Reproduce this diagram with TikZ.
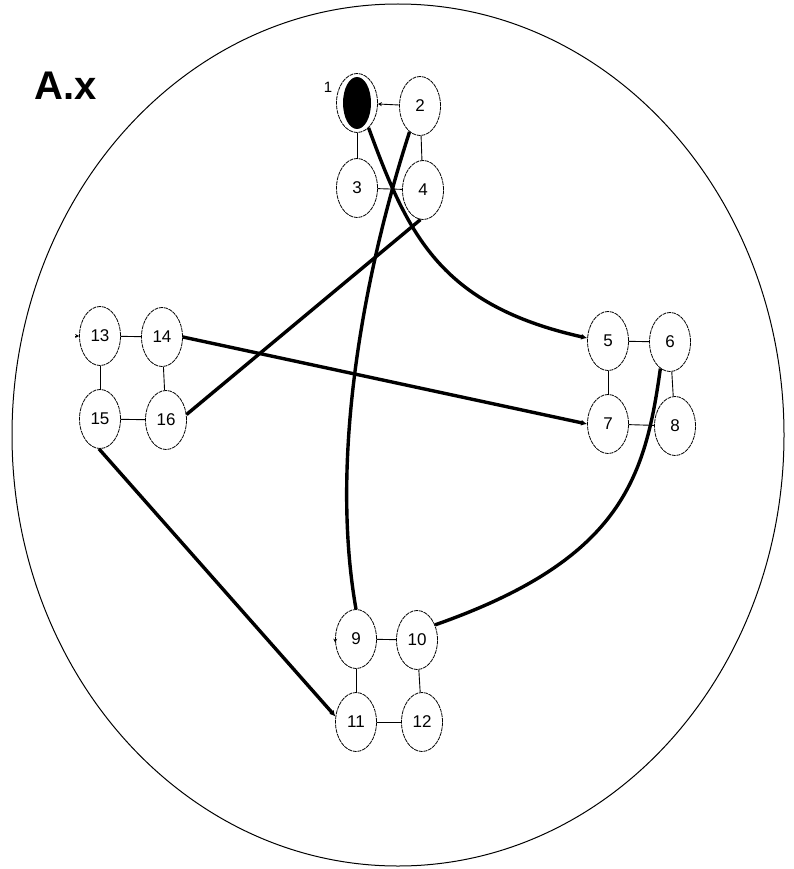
\documentclass[tikz,border=0pt]{standalone}
\usepackage{fontspec}
\setmainfont{Liberation Sans}
\usetikzlibrary{shapes.geometric, arrows.meta, calc}

\begin{document}
\begin{tikzpicture}[x=1pt, y=-1pt,
      state/.style={ellipse, draw, line width=0.8pt, dash pattern=on 4pt off 0.8pt,
         minimum width=41pt, minimum height=59pt, inner sep=0pt,
         font=\fontsize{17}{19}\selectfont},
      link/.style={line width=0.9pt},
      bond/.style={line width=3.4pt},
      tip/.style={-{Stealth[length=4pt, width=4pt]}}
   ]
   \useasboundingbox (0,0) rectangle (794,869);
   % Outer boundary
   \draw[line width=1pt] (398,435) ellipse (386 and 431);
   % Title
   \node[font=\bfseries\fontsize{40}{44}\selectfont] (title) at (66,86) {A.x};
   % Group 1-4 (node 1 filled)
   \node[state, path picture={\fill (path picture bounding box.center) ellipse (14pt and 26pt);},
      label={[font=\fontsize{15}{17}\selectfont, label distance=1pt]162:1}] (n1) at (357,103) {};
   \node[state] (n2) at (420,106) {2};
   \node[state] (n3) at (357,188) {3};
   \node[state] (n4) at (423,190) {4};
   % Group 5-8
   \node[state] (n5) at (608,341) {5};
   \node[state] (n6) at (670,342) {6};
   \node[state] (n7) at (608,424) {7};
   \node[state] (n8) at (675,426) {8};
   % Group 9-12
   \node[state] (n9) at (356,639) {9};
   \node[state] (n10) at (417,640) {10};
   \node[state] (n11) at (356,722) {11};
   \node[state] (n12) at (422,722) {12};
   % Group 13-16
   \node[state] (n13) at (100,336) {13};
   \node[state] (n14) at (162,337) {14};
   \node[state] (n15) at (100,419) {15};
   \node[state] (n16) at (166,420) {16};
   % Thin links inside the groups
   \draw[link, tip] (n2) -- (n1);
   \draw[link] (n1) -- (n3);
   \draw[link] (n2) -- (n4);
   \draw[link] (n3) -- (n4);
   \draw[link] (n5) -- (n6);
   \draw[link] (n5) -- (n7);
   \draw[link] (n6) -- (n8);
   \draw[link] (n7) -- (n8);
   \draw[link] (n9) -- (n10);
   \draw[link] (n9) -- (n11);
   \draw[link] (n10) -- (n12);
   \draw[link] (n11) -- (n12);
   \draw[link] (n13) -- (n14);
   \draw[link] (n13) -- (n15);
   \draw[link] (n14) -- (n16);
   \draw[link] (n15) -- (n16);
   % Small marks
   \draw[link, tip] ([xshift=-4pt]n13.west) -- (n13.west);
   \draw[link, tip] ([yshift=5pt]n9.190) -- (n9.190);
   % Thick bonds between the groups
   \draw[bond, -{Latex[length=6pt, width=6pt]}] (n1.-65) .. controls (408,235) and (440,305) .. (n5.172);
   \draw[bond] (n2.-112) .. controls (368,260) and (328,450) .. (n9.north);
   \draw[bond] (n4.-95) -- (n16.15);
   \draw[bond, -{Latex[length=6pt, width=6pt]}] (n14.east) -- (n7.west);
   \draw[bond, -{Latex[length=6pt, width=6pt]}] (n15.-92) -- (n11.165);
   \draw[bond] (n6.-110) .. controls (645,480) and (620,560) .. (n10.40);
\end{tikzpicture}
\end{document}
